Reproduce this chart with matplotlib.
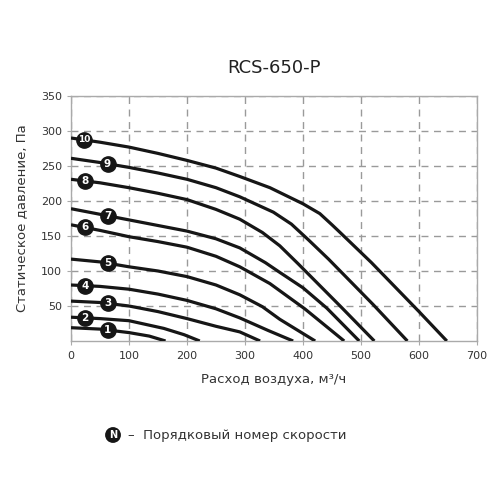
import matplotlib.pyplot as plt
import numpy as np

# Кривые по скоростям: расход (м³/ч) и статическое давление (Па)
speeds = [1, 2, 3, 4, 5, 6, 7, 8, 9, 10]
flow = [
    [0, 50, 100, 135, 163],
    [0, 50, 100, 160, 195, 222],
    [0, 50, 100, 150, 200, 250, 291, 326],
    [0, 50, 100, 150, 200, 250, 291, 340, 383],
    [0, 50, 100, 150, 200, 250, 291, 330, 360, 421],
    [0, 50, 100, 150, 200, 250, 291, 343, 403, 471],
    [0, 50, 100, 150, 200, 250, 291, 335, 360, 400, 441, 497],
    [0, 50, 100, 150, 200, 250, 291, 330, 360, 392, 464, 523],
    [0, 50, 100, 150, 200, 250, 291, 349, 380, 410, 444, 521, 580],
    [0, 50, 100, 150, 200, 250, 291, 343, 400, 429, 450, 464, 518, 600, 648],
]
pressure = [
    [19, 17, 12, 7, 0],
    [34, 32, 29, 18, 9, 0],
    [57, 55, 50, 42, 32, 21, 13, 0],
    [80, 78, 74, 67, 58, 46, 33, 15, 0],
    [117, 113, 106, 100, 92, 80, 66, 49, 31, 0],
    [166, 158, 149, 142, 134, 121, 106, 82, 46, 0],
    [189, 181, 173, 165, 157, 146, 133, 112, 98, 76, 47, 0],
    [231, 226, 219, 211, 202, 188, 174, 155, 136, 110, 50, 0],
    [261, 255, 248, 240, 231, 219, 206, 184, 167, 144, 117, 52, 0],
    [290, 284, 277, 268, 258, 247, 235, 219, 196, 182, 166, 155, 112, 42, 0],
]
label_x = [63, 24, 63, 24, 63, 24, 63, 24, 63, 22]

fig = plt.figure(figsize=(5, 5), dpi=100)
ax = fig.add_axes([0.142, 0.318, 0.812, 0.49])

for n, xs, ys, lx in zip(speeds, flow, pressure, label_x):
    ax.plot(xs, ys, color="#161616", lw=2.3, solid_capstyle="butt",
            solid_joinstyle="round", zorder=3)
    ly = np.interp(lx, xs, ys)
    ax.plot(lx, ly, "o", ms=11, color="#161616", zorder=4)
    ax.text(lx, ly, str(n), color="white", ha="center", va="center",
            fontsize=6.5 if n == 10 else 7.5, fontweight="bold", zorder=5)

ax.set_xlim(0, 700)
ax.set_ylim(0, 350)
ax.set_xticks(range(0, 701, 100))
ax.set_yticks(range(50, 351, 50))
ax.grid(True, color="#9a9a9a", linestyle=(0, (5, 4)), linewidth=1)
for s in ax.spines.values():
    s.set_color("#aaaaaa")
    s.set_linewidth(1)
ax.tick_params(colors="#aaaaaa", length=3, labelsize=8, labelcolor="#333333")
ax.tick_params(axis="x", pad=4)

fig.text(0.548, 0.864, "RCS-650-P", ha="center", va="center", fontsize=13, color="#222222")
fig.text(0.044, 0.564, "Статическое давление, Па", rotation=90, ha="center", va="center",
         fontsize=9.5, color="#333333")
fig.text(0.548, 0.24, "Расход воздуха, м³/ч", ha="center", va="center",
         fontsize=9.5, color="#333333")

# легенда снизу
fig.text(0.226, 0.13, "N", ha="center", va="center", fontsize=7, fontweight="bold", color="white",
         bbox=dict(boxstyle="circle,pad=0.3", fc="#161616", ec="none"))
fig.text(0.255, 0.13, "–  Порядковый номер скорости", ha="left", va="center",
         fontsize=9.5, color="#333333")

fig.savefig("out.png", dpi=100)
